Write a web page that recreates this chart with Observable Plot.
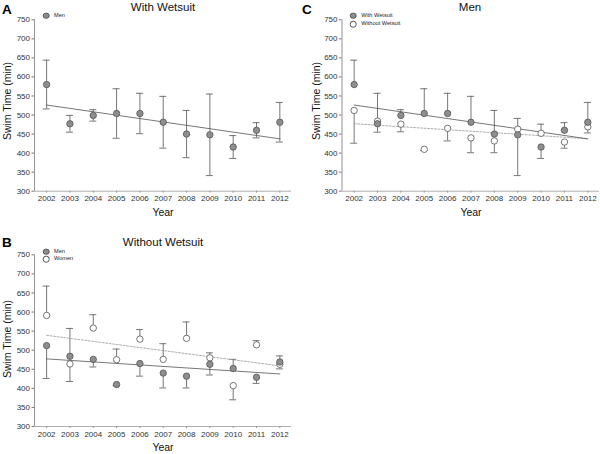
<!DOCTYPE html>
<html>
<head>
<meta charset="utf-8">
<script src="https://cdn.jsdelivr.net/npm/d3@7"></script>
<script src="https://cdn.jsdelivr.net/npm/@observablehq/plot@0.6"></script>
<style>
  html, body { margin: 0; padding: 0; background: #fff; }
  #root { position: relative; width: 600px; height: 454px; background: #fff; font-family: "Liberation Sans", Arial, sans-serif; color: #222; overflow: hidden; }
  .abs { position: absolute; white-space: nowrap; line-height: 1; }
  .letter { font-weight: bold; font-size: 13.5px; color: #000; }
  .title { font-size: 11.5px; transform: translateX(-50%); color: #111; }
  .xlab { font-size: 10.5px; transform: translateX(-50%); color: #111; }
  .ylab { font-size: 10.5px; transform: translate(-50%, -50%) rotate(-90deg); color: #111; }
  .leg { font-size: 5.6px; color: #222; transform: translateY(-50%); }
  .legdot { position: absolute; width: 4.6px; height: 4.6px; border-radius: 50%; border: 0.8px solid #555; transform: translate(-50%, -50%); }
  svg { position: absolute; }
</style>
</head>
<body>
<div id="root"></div>
<script>
const years = [2002, 2003, 2004, 2005, 2006, 2007, 2008, 2009, 2010, 2011, 2012];
// Men with wetsuit
const menWetMean = [580, 477, 499, 504, 504, 481, 450, 448, 416, 460, 481];
const menWetSD   = [64, 22, 15, 65, 53, 68, 62, 107, 30, 20, 52];
// Men without wetsuit
const menNoWetMean = [512, 484, 476, 410, 465, 440, 432, 463, 452, 429, 469];
const menNoWetSD   = [86, 73, 20, 3, 33, 39, 31, 28, 24, 16, 16];
// Women without wetsuit
const womenNoWetMean = [591, 464, 558, 475, 529, 476, 531, 480, 407, 514, 463];
const womenNoWetSD   = [77, 46, 35, 28, 25, 41, 43, 13, 37, 11, 12];
const yTicks = [300, 350, 400, 450, 500, 550, 600, 650, 700, 750];

const root = document.getElementById("root");
const FONT = "'Liberation Sans', Arial, sans-serif";
const xDomain = [2001.48, 2012.5];
const GREY = "#8e8e8e", STROKE = "#555", BAR = "#666";

function series(mean, sd) {
  return years.map((year, i) => ({ year, mean: mean[i], sd: sd[i] }));
}
// error bars: both directions, or only away from the compared series
function withBars(rows, other) {
  return rows.map((d, i) => {
    let lo = d.mean - d.sd, hi = d.mean + d.sd, caps = [lo, hi];
    if (other) {
      if (d.mean >= other[i].mean) { lo = d.mean; caps = [hi]; }
      else { hi = d.mean; caps = [lo]; }
    }
    return { ...d, lo, hi, caps };
  });
}
function capRows(rows) {
  return rows.flatMap(d => d.caps.map(c => ({ year: d.year, y: c })));
}
function seriesMarks(rows) {
  return [
    Plot.ruleX(rows, { x: "year", y1: "lo", y2: "hi", stroke: BAR, strokeWidth: 0.9 }),
    Plot.ruleY(capRows(rows), { y: "y", x1: d => d.year - 0.15, x2: d => d.year + 0.15, stroke: BAR, strokeWidth: 0.9 })
  ];
}
function lineMark(rows, stroke, dash, width) {
  return Plot.linearRegressionY(rows, { x: "year", y: "mean", stroke, strokeWidth: width, strokeDasharray: dash, ci: 0 });
}
function dotMark(rows, fill) {
  return Plot.dot(rows, { x: "year", y: "mean", r: 3.2, fill, stroke: STROKE, strokeWidth: 0.8 });
}

function panel({ left, top, marginLeft, marginRight, marginTop, marginBottom, marks }) {
  const svg = Plot.plot({
    width: 300, height: 227,
    marginLeft, marginRight, marginTop, marginBottom,
    style: { fontFamily: FONT, fontSize: "8px", color: "#333", background: "transparent", overflow: "visible" },
    x: { domain: xDomain, label: null },
    y: { domain: [300, 750], label: null },
    marks: [
      Plot.axisY(yTicks, { tickSize: 2.5, tickPadding: 2, stroke: "#777", fontSize: 8, label: null }),
      Plot.axisX(years, { tickSize: 2, tickPadding: 2.5, stroke: "#999", fontSize: 8, tickFormat: d => String(d), label: null }),
      Plot.ruleY([300], { stroke: "#999", strokeWidth: 0.8 }),
      Plot.ruleX([xDomain[0]], { stroke: "#777", strokeWidth: 0.8 }),
      ...marks
    ]
  });
  svg.style.left = left + "px";
  svg.style.top = top + "px";
  root.appendChild(svg);
}

function addText(cls, text, x, y) {
  const el = document.createElement("div");
  el.className = "abs " + cls;
  el.textContent = text;
  el.style.left = x + "px";
  el.style.top = y + "px";
  root.appendChild(el);
  return el;
}
function addLegend(items, x, y0, dy) {
  items.forEach((it, i) => {
    const dot = document.createElement("div");
    dot.className = "legdot";
    dot.style.left = x + "px";
    dot.style.top = (y0 + i * dy) + "px";
    dot.style.background = it.fill;
    root.appendChild(dot);
    addText("leg", it.label, x + 8, y0 + i * dy);
  });
}

// ---------- Panel A ----------
const A = withBars(series(menWetMean, menWetSD), null);
panel({
  left: 0, top: 0, marginLeft: 34, marginRight: 9, marginTop: 19.3, marginBottom: 36.3,
  marks: [...seriesMarks(A), lineMark(A, "#4a4a4a", null, 0.75), dotMark(A, GREY)]
});
addText("letter", "A", 2, 3);
addText("title", "With Wetsuit", 163, 1.5);
addText("xlab", "Year", 163, 206.5);
addText("ylab", "Swim Time (min)", 7, 101);
addLegend([{ label: "Men", fill: GREY }], 46, 15.7, 8.5);

// ---------- Panel B ----------
const Bm0 = series(menNoWetMean, menNoWetSD), Bw0 = series(womenNoWetMean, womenNoWetSD);
const Bm = withBars(Bm0, Bw0), Bw = withBars(Bw0, Bm0);
panel({
  left: 0, top: 227, marginLeft: 34, marginRight: 9, marginTop: 27.3, marginBottom: 28,
  marks: [
    ...seriesMarks(Bw), ...seriesMarks(Bm),
    lineMark(Bw, "#999", "2,1.5", 0.8), lineMark(Bm, "#4a4a4a", null, 0.75),
    dotMark(Bw, "#fff"), dotMark(Bm, GREY)
  ]
});
addText("letter", "B", 2, 235.5);
addText("title", "Without Wetsuit", 163, 236.5);
addText("xlab", "Year", 163, 442);
addText("ylab", "Swim Time (min)", 7, 339);
addLegend([{ label: "Men", fill: GREY }, { label: "Women", fill: "#fff" }], 46, 251.7, 7.6);

// ---------- Panel C ----------
const Cw0 = series(menWetMean, menWetSD), Cn0 = series(menNoWetMean, menNoWetSD);
const Cw = withBars(Cw0, Cn0), Cn = withBars(Cn0, Cw0);
panel({
  left: 300, top: 0, marginLeft: 41.5, marginRight: 1, marginTop: 19.3, marginBottom: 36.3,
  marks: [
    ...seriesMarks(Cn), ...seriesMarks(Cw),
    lineMark(Cn, "#999", "2,1.5", 0.8), lineMark(Cw, "#4a4a4a", null, 0.75),
    dotMark(Cn, "#fff"), dotMark(Cw, GREY)
  ]
});
addText("letter", "C", 302, 3);
addText("title", "Men", 470, 1.5);
addText("xlab", "Year", 471, 206.5);
addText("ylab", "Swim Time (min)", 316, 101);
addLegend([{ label: "With Wetsuit", fill: GREY }, { label: "Without Wetsuit", fill: "#fff" }], 353.3, 15.8, 8.4);
</script>
</body>
</html>
